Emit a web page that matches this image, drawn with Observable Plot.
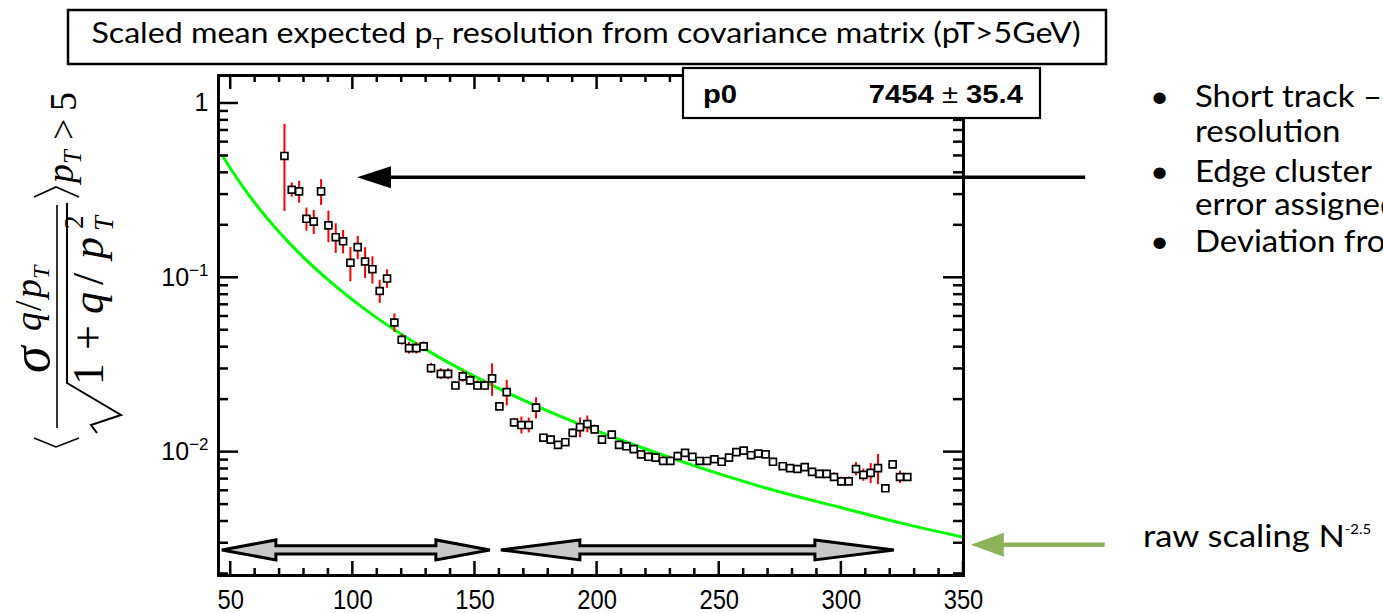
<!DOCTYPE html>
<html><head><meta charset="utf-8">
<script src="https://cdn.jsdelivr.net/npm/d3@7"></script>
<script src="https://cdn.jsdelivr.net/npm/@observablehq/plot@0.6"></script>
<style>
html,body{margin:0;padding:0;background:#fff;overflow:hidden}
#wrap{position:relative;width:1383px;height:613px;overflow:hidden}
#wrap svg{position:absolute;left:0;top:0}
</style></head><body><div id="wrap"></div>
<script>
// ---------- data ----------
const nClusters = [72,75,78,81,84,87,90,93,96,99,102,105,108,111,114,117,120,123,126,129,132,136,139,142,145,148,151,154,157,160,163,166,169,172,175,178,181,184,187,190,193,196,199,202,206,209,212,215,218,221,224,227,230,233,236,239,242,245,248,251,254,257,260,263,266,269,272,276,279,282,285,288,291,294,297,300,303,306,309,312,315,318,321,324,327];
const resolution = [0.50,0.32,0.313,0.218,0.21,0.313,0.200,0.171,0.162,0.122,0.150,0.124,0.112,0.084,0.099,0.0554,0.0441,0.0395,0.0395,0.0404,0.0303,0.0281,0.0281,0.0241,0.0272,0.0258,0.0241,0.0241,0.0265,0.0183,0.0221,0.0148,0.0143,0.0143,0.0180,0.0121,0.0118,0.0110,0.0114,0.0129,0.0139,0.0145,0.0135,0.0118,0.0126,0.0110,0.0108,0.0104,0.0097,0.0094,0.0093,0.0089,0.0089,0.0095,0.0099,0.0094,0.0089,0.0089,0.0091,0.0088,0.0093,0.0100,0.0102,0.0096,0.0098,0.0097,0.0088,0.0083,0.0081,0.0080,0.0082,0.0077,0.0075,0.0075,0.0072,0.0068,0.0068,0.0080,0.0074,0.0076,0.0081,0.0062,0.0085,0.0072,0.0072];
const resolutionErr = [0.26,0.03,0.045,0.033,0.033,0.053,0.041,0.033,0.025,0.027,0.023,0.025,0.020,0.0127,0.012,0.0067,0.003,0.003,0.003,0.0025,0.002,0.002,0.002,0.001,0.002,0.0017,0.0015,0.0015,0.0056,0.0008,0.0037,0.0007,0.0016,0.0014,0.0025,0.0006,0.0006,0.0004,0.0005,0.0007,0.0018,0.0016,0.0008,0.0006,0.0007,0.0005,0.0005,0.0005,0.0005,0.0005,0.0005,0.0005,0.0005,0.0005,0.0004,0.0004,0.0004,0.0004,0.0004,0.0004,0.0004,0.0004,0.0004,0.0004,0.0004,0.0004,0.0004,0.0004,0.0004,0.0004,0.0004,0.0004,0.0004,0.0004,0.0004,0.0004,0.0004,0.0007,0.0006,0.001,0.0016,0.0002,0.0002,0.0006,0.0003];
const binHalfWidth = 1.5;
const scalingX = [47,50,55,60,65,70,75,80,90,100,110,120,135,150,170,190,210,230,250,275,300,325,350];
const scalingY = [0.492,0.422,0.332,0.267,0.219,0.182,0.153,0.130,0.0970,0.0745,0.0587,0.0473,0.0352,0.0271,0.0198,0.0150,0.0117,0.0093,0.0075,0.0059,0.0048,0.0039,0.00325];
const xMajorTicks = [50,100,150,200,250,300,350];
const xMinorTicks = [60,70,80,90,110,120,130,140,160,170,180,190,210,220,230,240,260,270,280,290,310,320,330,340];
const yMajorTicks = [1,0.1,0.01];
const yTickLabels = ["1","10^\u22121","10^\u22122"];
const yMinorTicks = [0.9,0.8,0.7,0.6,0.5,0.4,0.3,0.2,0.09,0.08,0.07,0.06,0.05,0.04,0.03,0.02,0.009,0.008,0.007,0.006,0.005,0.004,0.003,0.002];
const xDomain = [45,350];
const yDomain = [0.00196,1.447];
const fitName = "p0", fitValue = "7454", fitError = "35.4";
const titleMain = "Scaled mean expected p", titleSub = "T", titleRest = " resolution from covariance matrix (pT>5GeV)";
const bullets = [["Short track \u2013", "resolution"], ["Edge cluster", "error assigned"], ["Deviation from"]];
const scalingNote = "raw scaling N", scalingExp = "-2.5";
const rangeArrows = [[46.6,156.3],[160.8,321.7]];
const rangeArrowLevel = 0.00273;
const pointerArrow = {from:[400,0.375], to:[101.9,0.375]};
const scalingArrow = {from:[408,0.00292], to:[353.2,0.00292]};

// ---------- plot ----------
const points = nClusters.map((x,i)=>({x, y: resolution[i], e: resolutionErr[i]}));
const curve = scalingX.map((x,i)=>({x, y: scalingY[i]}));
const W=1383,H=613,mL=218,mR=420,mT=75,mB=38;
const plot = Plot.plot({
  width:W, height:H, marginLeft:mL, marginRight:mR, marginTop:mT, marginBottom:mB,
  x:{domain:xDomain},
  y:{type:"log", domain:yDomain},
  style:{fontFamily:"'Liberation Sans', Arial, sans-serif", background:"transparent", color:"black"},
  marks:[
    Plot.axisX(xMajorTicks,{tickSize:0,tickPadding:9,label:null}),
    Plot.axisY(yMajorTicks,{tickSize:0,tickPadding:10,label:null,tickFormat:d=>yTickLabels[yMajorTicks.indexOf(d)]}),
    Plot.line(curve,{x:"x",y:"y",stroke:"#00ff00",strokeWidth:3,curve:"monotone-x"}),
    Plot.ruleX(points,{x:"x",y1:d=>d.y-d.e,y2:d=>d.y+d.e,stroke:"#ff0000",strokeWidth:2}),
    Plot.ruleY(points,{y:"y",x1:d=>d.x-binHalfWidth,x2:d=>d.x+binHalfWidth,stroke:"#ff0000",strokeWidth:1.5}),
    Plot.dot(points,{x:"x",y:"y",symbol:"square",r:3.9,fill:"white",stroke:"black",strokeWidth:1.7}),
    Plot.frame({stroke:"black",strokeWidth:3})
  ]
});
document.getElementById("wrap").appendChild(plot);
d3.select(plot).selectAll('[aria-label="y-axis tick label"] text').each(function(){
  this.style.fontSize="25px";
  const parts=this.textContent.split("^");
  if(parts.length>1){
    this.textContent=parts[0];
    d3.select(this).append("tspan").attr("dy","-0.6em").style("font-size","17px").text(parts[1]);
  }
});
d3.select(plot).selectAll('[aria-label="x-axis tick label"] text').each(function(){
  this.style.fontSize="27px";
  const tr=this.getAttribute("transform")||"";
  this.setAttribute("transform",tr+" translate(0,5) scale(0.88,1)");
});
const sx=plot.scale("x"), sy=plot.scale("y");

// ---------- overlay ----------
const ov=d3.select("#wrap").append("svg").attr("width",W).attr("height",H);
// axis ticks (inside the frame, ROOT style)
{
  const L=sx.apply(xDomain[0]), R=sx.apply(xDomain[1]), B=sy.apply(yDomain[0]), T=sy.apply(yDomain[1]);
  const tk=ov.append("g").attr("stroke","black").attr("stroke-width",2.5);
  const vx=(v,len)=>{const x=sx.apply(v); tk.append("line").attr("x1",x).attr("x2",x).attr("y1",B).attr("y2",B-len); tk.append("line").attr("x1",x).attr("x2",x).attr("y1",T).attr("y2",T+len);};
  const hy=(v,len)=>{const y=sy.apply(v); tk.append("line").attr("y1",y).attr("y2",y).attr("x1",L).attr("x2",L+len); tk.append("line").attr("y1",y).attr("y2",y).attr("x1",R).attr("x2",R-len);};
  xMajorTicks.forEach(v=>vx(v,14)); xMinorTicks.forEach(v=>vx(v,7));
  yMajorTicks.forEach(v=>hy(v,20)); yMinorTicks.forEach(v=>hy(v,10));
}
// gray double arrows
const yc=sy.apply(rangeArrowLevel);
const heads=[54,79];
rangeArrows.forEach((r,i)=>{
  const x1=sx.apply(r[0]), x2=sx.apply(r[1]), hl=heads[i], hh=10, sh=4.2;
  ov.append("path").attr("d",`M${x1},${yc} L${x1+hl},${yc-hh} L${x1+hl},${yc-sh} L${x2-hl},${yc-sh} L${x2-hl},${yc-hh} L${x2},${yc} L${x2-hl},${yc+hh} L${x2-hl},${yc+sh} L${x1+hl},${yc+sh} L${x1+hl},${yc+hh} Z`)
    .attr("fill","#c8c8c8").attr("stroke","black").attr("stroke-width",3).attr("stroke-linejoin","miter");
});
// black pointer arrow
{
  const xa=sx.apply(pointerArrow.from[0]), xb=sx.apply(pointerArrow.to[0]), y=sy.apply(pointerArrow.to[1]);
  ov.append("line").attr("x1",xa).attr("x2",xb+30).attr("y1",y).attr("y2",y).attr("stroke","black").attr("stroke-width",3.5);
  ov.append("path").attr("d",`M${xb},${y} L${xb+34},${y-11} L${xb+34},${y+11} Z`).attr("fill","black");
}
// green scaling arrow
{
  const xa=sx.apply(scalingArrow.from[0]), xb=sx.apply(scalingArrow.to[0]), y=sy.apply(scalingArrow.to[1]);
  ov.append("line").attr("x1",xa).attr("x2",xb+30).attr("y1",y).attr("y2",y).attr("stroke","#8db35a").attr("stroke-width",4.5);
  ov.append("path").attr("d",`M${xb},${y} L${xb+33},${y-12} L${xb+33},${y+12} Z`).attr("fill","#8db35a");
}
// helper: horizontally stretched text
const stext=(x,y,sxf,attrs)=>{
  const g=ov.append("g").attr("transform",`translate(${x},${y}) scale(${sxf},1)`);
  const t=g.append("text").attr("x",0).attr("y",0);
  Object.entries(attrs).forEach(([k,v])=>t.attr(k,v));
  return t;
};
// title box
ov.append("rect").attr("x",68).attr("y",10).attr("width",1038).attr("height",54).attr("fill","white").attr("stroke","black").attr("stroke-width",2.5);
{
  const t=stext(586,43,1.15,{"text-anchor":"middle","font-family":"Lato, 'Open Sans', sans-serif","font-size":28});
  t.append("tspan").text(titleMain);
  t.append("tspan").attr("font-size",16).attr("dy",6).text(titleSub);
  t.append("tspan").attr("dy",-6).text(titleRest);
}
// stats box
ov.append("rect").attr("x",683).attr("y",68).attr("width",357).attr("height",50).attr("fill","white").attr("stroke","black").attr("stroke-width",2.2);
stext(703,103,1.17,{"font-family":"'Liberation Sans', Arial, sans-serif","font-weight":"bold","font-size":25}).text(fitName);
{
  const t=stext(1023,103,1.17,{"text-anchor":"end","font-family":"'Liberation Sans', Arial, sans-serif","font-weight":"bold","font-size":25});
  t.append("tspan").text(fitValue+" ");
  t.append("tspan").attr("font-weight","normal").text("\u00b1");
  t.append("tspan").text(" "+fitError);
}
// bullet text
{
  const lineY=[[107,142],[182,215],[252]];
  bullets.forEach((b,i)=>{
    stext(1150,lineY[i][0],1.1,{"font-family":"Lato, sans-serif","font-size":30}).text("\u2022");
    b.forEach((s,j)=>{
      stext(1195,lineY[i][j],1.1,{"font-family":"Lato, sans-serif","font-size":30}).text(s);
    });
  });
  const t=stext(1143,547,1.15,{"font-family":"Lato, sans-serif","font-size":30});
  t.append("tspan").text(scalingNote);
  t.append("tspan").attr("font-size",13).attr("dy",-13).text(scalingExp);
}
// y axis label (rotated formula)
{
  const g=ov.append("g").attr("transform","translate(-1,445) rotate(-90)").attr("font-family","'Liberation Serif', 'DejaVu Serif', serif").attr("fill","black");
  g.append("path").attr("d","M7,35 L-2,57 L7,80").attr("stroke","black").attr("fill","none").attr("stroke-width",1.6);
  g.append("path").attr("d","M248,35 L258,57 L248,80").attr("stroke","black").attr("fill","none").attr("stroke-width",1.6);
  g.append("line").attr("x1",17).attr("x2",240).attr("y1",58).attr("y2",58).attr("stroke","black").attr("stroke-width",1.6);
  g.append("path").attr("d","M12,98 L20,92 L30,122 L62,68 L242,68").attr("stroke","black").attr("fill","none").attr("stroke-width",2).attr("stroke-linejoin","miter");
  const txt=(x,y,s,fs,it)=>g.append("text").attr("x",x).attr("y",y).attr("font-size",fs).attr("font-style",it?"italic":"normal").text(s);
  txt(72,50,"\u03c3",54,true);
  txt(114,42,"q",38,true); txt(134,42,"/",38,false); txt(147,42,"p",38,true); txt(166,50,"T",24,true);
  txt(60,104,"1",44,false); txt(95,104,"+",44,false); txt(131,104,"q",44,true); txt(160,104,"/",44,false); txt(186,104,"p",44,true);
  txt(216,84,"2",27,false); txt(214,114,"T",27,true);
  txt(262,74,"p",38,true); txt(281,82,"T",25,true); txt(305,77,">",38,false); txt(334,77,"5",38,false);
}
</script></body></html>
